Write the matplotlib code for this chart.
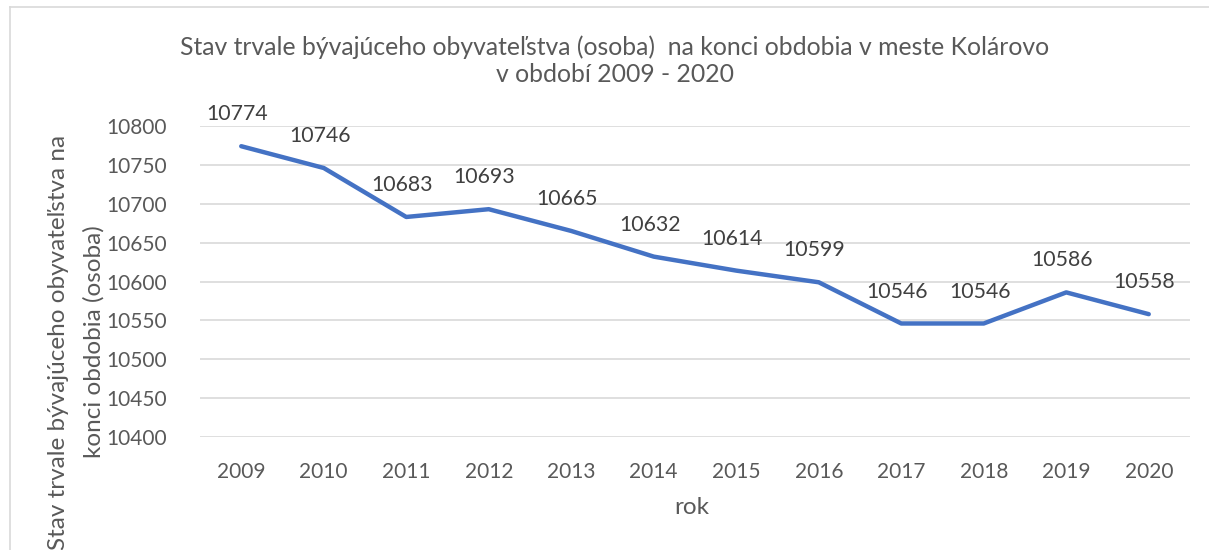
import matplotlib.pyplot as plt
from matplotlib.lines import Line2D

# data
years = ["2009", "2010", "2011", "2012", "2013", "2014",
         "2015", "2016", "2017", "2018", "2019", "2020"]
population = [10774, 10746, 10683, 10693, 10665, 10632,
              10614, 10599, 10546, 10546, 10586, 10558]
y_ticks = [10400, 10450, 10500, 10550, 10600, 10650, 10700, 10750, 10800]

title_1 = "Stav trvale bývajúceho obyvateľstva (osoba)  na konci obdobia v meste Kolárovo"
title_2 = "v období 2009 - 2020"
y_label_1 = "Stav trvale bývajúceho obyvateľstva na"
y_label_2 = "konci obdobia (osoba)"
x_label = "rok"

plt.rcParams["font.family"] = ["Lato", "DejaVu Sans"]
text_col = "#595959"
grid_col = "#d9d9d9"
W, H = 1209, 550

fig = plt.figure(figsize=(W / 100, H / 100), dpi=100)
ax = fig.add_axes([200 / W, 1 - 437 / H, 990 / W, (437 - 126) / H])

x = range(len(years))
ax.plot(x, population, color="#4472C4", lw=3.2, solid_capstyle="round",
        solid_joinstyle="round", zorder=3)
for i, v in zip(x, population):
    ax.annotate(str(v), (i, v), xytext=(-3, 23), textcoords="offset points",
                ha="center", va="center", fontsize=15.3, color="#404040")

ax.set_xlim(-0.5, len(years) - 0.5)
ax.set_ylim(10400, 10800)
ax.set_yticks(y_ticks)
ax.set_xticks(list(x))
ax.set_xticklabels(years)
ax.tick_params(length=0, labelsize=15, colors=text_col)
ax.tick_params(axis="y", pad=24)
ax.tick_params(axis="x", pad=18)
ax.grid(axis="y", color=grid_col, lw=1.2)
ax.set_axisbelow(True)
for s in ax.spines.values():
    s.set_visible(False)

fig.text(615 / W, 1 - 47 / H, title_1, ha="center", va="center",
         fontsize=17.8, color=text_col)
fig.text(615 / W, 1 - 75 / H, title_2, ha="center", va="center",
         fontsize=17.8, color=text_col)
fig.text(692 / W, 1 - 508 / H, x_label, ha="center", va="center",
         fontsize=17.5, color=text_col)
fig.text(59 / W, 1 - 342 / H, y_label_1, ha="center", va="center",
         rotation=90, fontsize=17.5, color=text_col)
fig.text(94 / W, 1 - 342 / H, y_label_2, ha="center", va="center",
         rotation=90, fontsize=17.5, color=text_col)

# chart frame (cut off at the right and bottom edge)
fig.add_artist(Line2D([10 / W, 10 / W], [0, 1 - 7 / H], transform=fig.transFigure,
                      color=grid_col, lw=1.2))
fig.add_artist(Line2D([10 / W, 1], [1 - 7 / H, 1 - 7 / H], transform=fig.transFigure,
                      color=grid_col, lw=1.2))

fig.savefig("out.png", dpi=100, facecolor="white")
